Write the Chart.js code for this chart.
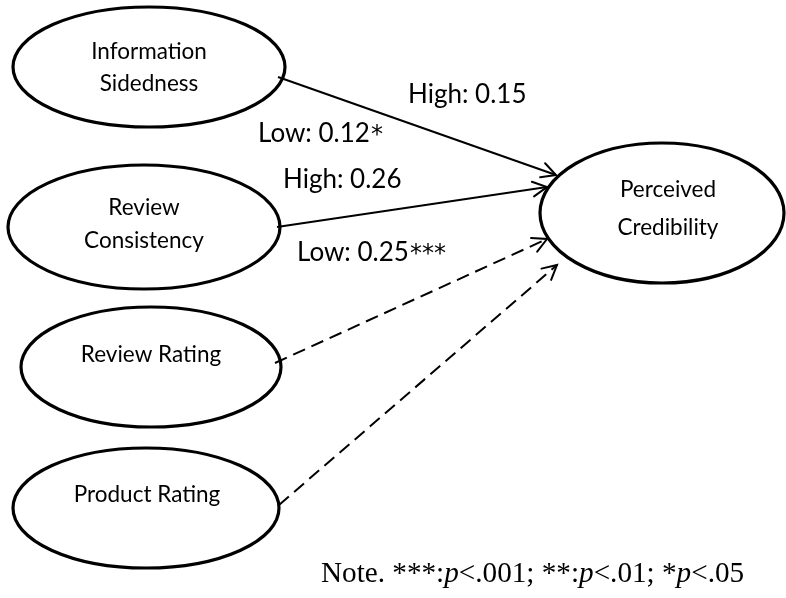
<!DOCTYPE html>
<html>
<head>
<meta charset="utf-8">
<script src="https://cdn.jsdelivr.net/npm/chart.js@4.4.1/dist/chart.umd.min.js"></script>
<style>
  html, body { margin: 0; padding: 0; background: #ffffff; }
  #wrap { position: relative; width: 786px; height: 598px; }
</style>
</head>
<body>
<div id="wrap"><canvas id="c"></canvas></div>
<script>
// ---------------- data ----------------
const nodeNames = [
  ["Information", "Sidedness"],
  ["Review", "Consistency"],
  ["Review Rating"],
  ["Product Rating"],
  ["Perceived", "Credibility"]
];
const pathFrom = [0, 1, 2, 3];           // predictor node index
const pathTo = [4, 4, 4, 4];             // outcome node index
const highCoef = [0.15, 0.26, null, null];
const lowCoef = [0.12, 0.25, null, null];
const highStars = ["", "", "", ""];
const lowStars = ["*", "***", "", ""];
const pathSupported = [true, true, false, false];
const noteText = ["Note. ", "***:", "p", "<.001; **:", "p", "<.01; *", "p", "<.05"];

// ---------------- layout (positions / sizes) ----------------
const nodeBox = [
  { cx: 149, cy: 67,  rx: 136, ry: 60, textX: 149, base: [59, 91] },
  { cx: 144, cy: 227, rx: 136, ry: 62, textX: 144, base: [215, 248] },
  { cx: 151, cy: 367, rx: 130, ry: 60, textX: 151, base: [362] },
  { cx: 146, cy: 508, rx: 133, ry: 60, textX: 147, base: [502] },
  { cx: 662, cy: 213, rx: 122, ry: 70, textX: 668, base: [197, 235] }
];
const pathEnds = [
  { x0: 278, y0: 77,  x1: 556, y1: 175 },
  { x0: 277, y0: 227, x1: 547, y1: 187 },
  { x0: 275, y0: 363, x1: 547, y1: 239 },
  { x0: 279, y0: 505, x1: 557, y1: 265 }
];
const highPos = [{ x: 408, y: 103 }, { x: 283, y: 188 }];
const lowPos = [{ x: 258, y: 142 }, { x: 297, y: 261 }];
const notePos = { x: 321, y: 582 };

const labelFont = "26px Lato";
const starFont = "24px 'DejaVu Sans'";
const nodeFont = "22.5px Lato";
const noteSize = 29.2;

// ---------------- datasets (paths as lines) ----------------
const datasets = pathFrom.map((f, i) => ({
  type: "line",
  label: nodeNames[f].join(" ") + " -> " + nodeNames[pathTo[i]].join(" "),
  data: [{ x: pathEnds[i].x0, y: pathEnds[i].y0 }, { x: pathEnds[i].x1, y: pathEnds[i].y1 }],
  borderColor: "#000000",
  borderWidth: 2,
  borderDash: pathSupported[i] ? [] : [13, 7],
  pointRadius: 0,
  fill: false,
  tension: 0
}));

const fmt = v => v.toFixed(2);

const diagramPlugin = {
  id: "diagram",
  afterDatasetsDraw(chart) {
    const ctx = chart.ctx;
    const xs = chart.scales.x, ys = chart.scales.y;
    const px = v => xs.getPixelForValue(v);
    const py = v => ys.getPixelForValue(v);
    ctx.save();
    // arrowheads
    chart.data.datasets.forEach((ds, i) => {
      const pts = chart.getDatasetMeta(i).data;
      const a = pts[0], b = pts[1];
      const ang = Math.atan2(b.y - a.y, b.x - a.x);
      const L = 16, spread = Math.PI / 6.5;
      ctx.setLineDash([]);
      ctx.strokeStyle = "#000";
      ctx.lineWidth = 2;
      ctx.lineCap = "round";
      ctx.beginPath();
      ctx.moveTo(b.x - L * Math.cos(ang - spread), b.y - L * Math.sin(ang - spread));
      ctx.lineTo(b.x, b.y);
      ctx.lineTo(b.x - L * Math.cos(ang + spread), b.y - L * Math.sin(ang + spread));
      ctx.stroke();
    });
    // ellipses
    ctx.lineWidth = 3.2;
    nodeBox.forEach(n => {
      const cx = px(n.cx), cy = py(n.cy);
      const rx = Math.abs(px(n.cx + n.rx) - cx), ry = Math.abs(py(n.cy + n.ry) - cy);
      ctx.beginPath();
      ctx.ellipse(cx, cy, rx, ry, 0, 0, Math.PI * 2);
      ctx.stroke();
    });
    // node labels
    ctx.fillStyle = "#000";
    ctx.font = nodeFont;
    ctx.textAlign = "center";
    ctx.textBaseline = "alphabetic";
    nodeNames.forEach((lines, i) => {
      lines.forEach((t, k) => ctx.fillText(t, px(nodeBox[i].textX), py(nodeBox[i].base[k])));
    });
    // coefficient labels
    ctx.textAlign = "left";
    const drawCoef = (text, stars, pos) => {
      ctx.font = labelFont;
      const x = px(pos.x), y = py(pos.y);
      ctx.fillText(text, x, y);
      const w = ctx.measureText(text).width;
      ctx.font = starFont;
      ctx.fillText(stars, x + w + 1, y);
    };
    highCoef.forEach((v, i) => {
      if (v === null) return;
      drawCoef("High: " + fmt(v), highStars[i], highPos[i]);
    });
    lowCoef.forEach((v, i) => {
      if (v === null) return;
      drawCoef("Low: " + fmt(v), lowStars[i], lowPos[i]);
    });
    // note
    let x = px(notePos.x);
    noteText.forEach(seg => {
      ctx.font = (seg === "p" ? "italic " : "") + noteSize + "px 'Liberation Serif'";
      ctx.fillText(seg, x, py(notePos.y));
      x += ctx.measureText(seg).width;
    });
    ctx.restore();
  }
};

new Chart(document.getElementById("c"), {
  type: "scatter",
  data: { datasets },
  options: {
    responsive: true,
    maintainAspectRatio: false,
    animation: false,
    layout: { padding: 0, autoPadding: false },
    plugins: { legend: { display: false }, tooltip: { enabled: false } },
    scales: {
      x: { type: "linear", min: 0, max: 786, display: false },
      y: { type: "linear", min: 0, max: 598, reverse: true, display: false }
    }
  },
  plugins: [diagramPlugin]
});
</script>
</body>
</html>
